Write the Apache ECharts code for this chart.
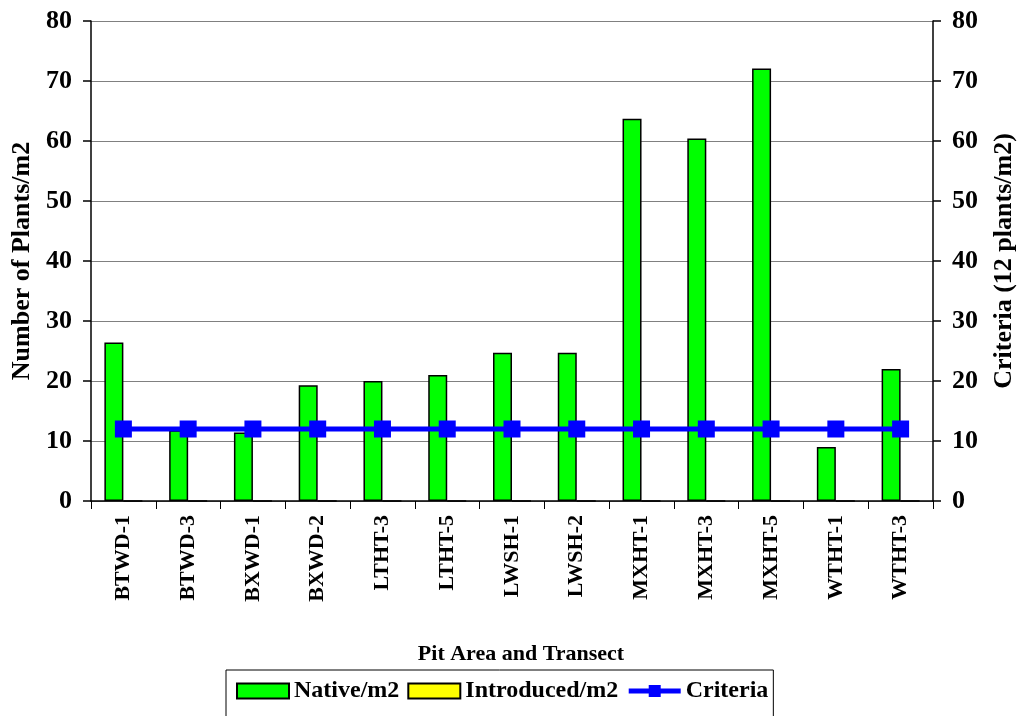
<!DOCTYPE html>
<html>
<head>
<meta charset="utf-8">
<script src="https://cdn.jsdelivr.net/npm/echarts@6/dist/echarts.min.js"></script>
<style>
    html, body { margin: 0; padding: 0; background: #fff; }
    #chart { width: 1023px; height: 716px; }
</style>
</head>
<body>
<div id="chart"></div>
<script>
const transects = ['BTWD-1', 'BTWD-3', 'BXWD-1', 'BXWD-2', 'LTHT-3', 'LTHT-5', 'LWSH-1', 'LWSH-2', 'MXHT-1', 'MXHT-3', 'MXHT-5', 'WTHT-1', 'WTHT-3']
const nativePerM2 = [26.4, 11.8, 11.4, 19.3, 20.0, 21.0, 24.7, 24.7, 63.7, 60.4, 72.1, 9.0, 22.0]
const introducedPerM2 = [0, 0, 0, 0, 0, 0, 0, 0, 0, 0, 0, 0, 0]
const criteria = [12, 12, 12, 12, 12, 12, 12, 12, 12, 12, 12, 12, 12]

const FONT = 'Liberation Serif'
const boldText = (size) => ({fontFamily: FONT, fontWeight: 'bold', fontSize: size, color: '#000'})

const chart = echarts.init(document.getElementById('chart'))

const valueAxis = (name, pos) => ({
    type: 'value',
    position: pos,
    min: 0,
    max: 80,
    interval: 10,
    name: name,
    nameLocation: 'middle',
    nameGap: pos === 'left' ? 56 : 58,
    nameTextStyle: boldText(26),
    axisLine: {show: true, lineStyle: {color: '#000', width: 1.5}},
    axisTick: {show: true, length: 8, lineStyle: {color: '#000', width: 1.5}},
    axisLabel: Object.assign(boldText(26), {margin: 19}),
    splitLine: {show: pos === 'left', lineStyle: {color: '#808080', width: 1}}
})

const options = {
    animation: false,
    grid: {left: 91, right: 90, top: 21, bottom: 215, containLabel: false, outerBoundsMode: 'none'},
    legend: {
        left: 226,
        top: 670,
        padding: [9, 5, 20, 10],
        itemGap: 8,
        itemWidth: 52,
        itemHeight: 15,
        borderColor: '#000',
        borderWidth: 1,
        textStyle: boldText(24),
        lineStyle: {width: 5},
        data: [
            {name: 'Native/m2', icon: 'rect'},
            {name: 'Introduced/m2', icon: 'rect'},
            {name: 'Criteria'}
        ]
    },
    xAxis: {
        type: 'category',
        data: transects,
        name: 'Pit Area and Transect',
        nameLocation: 'middle',
        nameGap: 142,
        nameTextStyle: Object.assign(boldText(22), {padding: [0, 0, 0, 18]}),
        axisLine: {lineStyle: {color: '#000', width: 1.5}},
        axisTick: {show: true, length: 8, lineStyle: {color: '#000', width: 1}},
        axisLabel: Object.assign(boldText(22), {rotate: 90, interval: 0, margin: 14})
    },
    yAxis: [
        valueAxis('Number of Plants/m2', 'left'),
        valueAxis('Criteria (12 plants/m2)', 'right')
    ],
    series: [
        {
            name: 'Native/m2',
            type: 'bar',
            data: nativePerM2,
            barWidth: 19,
            barGap: '0%',
            itemStyle: {color: '#00ff00', borderColor: '#000', borderWidth: 1.5}
        },
        {
            name: 'Introduced/m2',
            type: 'bar',
            data: introducedPerM2,
            barWidth: 19,
            barGap: '0%',
            itemStyle: {color: '#ffff00', borderColor: '#000', borderWidth: 1.5}
        },
        {
            name: 'Criteria',
            type: 'line',
            yAxisIndex: 1,
            data: criteria,
            symbol: 'rect',
            symbolSize: 17,
            lineStyle: {color: '#0000ff', width: 5},
            itemStyle: {color: '#0000ff'}
        }
    ]
}
chart.setOption(options)
</script>
</body>
</html>
